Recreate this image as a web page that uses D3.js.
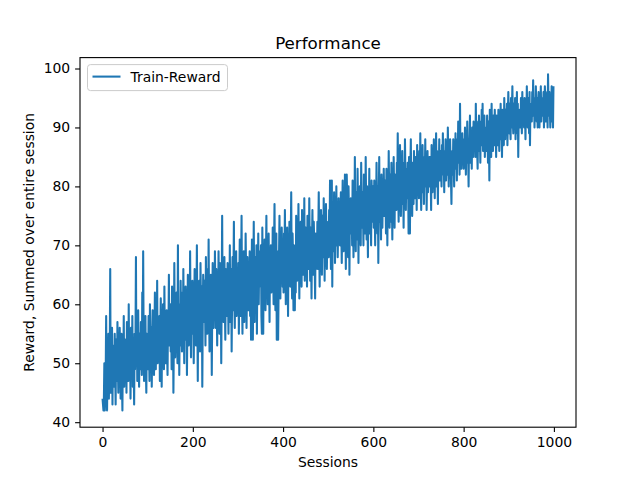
<!DOCTYPE html>
<html>
<head>
<meta charset="utf-8">
<script src="https://cdn.jsdelivr.net/npm/d3@7"></script>
<style>
  body { margin: 0; background: #fff; }
  svg { font-family: "DejaVu Sans", sans-serif; }
</style>
</head>
<body>
<svg id="chart" width="640" height="480"></svg>
<script>
// Train reward per session (sessions 0..999, 25 per row)
const trainReward = [
  44,43,42,44,50,42,46,48,58,45,42,50,47,55,44,49,52,66,45,51,47,56,43,53,48,
  52,46,55,49,43,54,51,47,57,50,45,53,48,56,52,44,50,55,47,42,53,49,58,46,51,
  54,48,52,45,57,50,53,47,60,49,55,51,44,56,52,48,58,46,53,50,43,55,49,54,68,
  50,56,47,53,59,51,46,55,52,49,57,53,48,62,50,69,54,47,56,51,58,49,45,55,52,
  55,49,58,52,47,60,54,50,56,46,53,59,51,57,48,55,62,52,49,56,53,64,50,57,54,
  51,58,47,55,61,53,46,57,52,60,55,49,63,54,57,50,56,59,52,48,58,55,65,53,57,
  60,52,57,49,63,55,58,45,54,67,56,51,59,53,62,57,50,70,55,60,48,58,53,64,56,
  59,52,62,55,66,58,50,61,56,63,54,60,48,57,65,59,53,62,56,69,58,51,61,55,64,
  56,62,50,59,66,57,63,53,60,70,58,47,61,56,64,59,52,67,60,55,63,46,58,65,61,
  57,64,61,53,68,59,62,55,66,58,71,60,52,63,57,65,61,48,59,67,62,56,64,59,69,
  62,56,66,60,53,64,58,69,61,55,67,60,63,50,62,75,59,65,57,63,68,60,54,66,61,
  64,58,67,62,55,65,60,70,57,63,66,52,61,68,59,64,74,60,56,66,62,69,58,63,65,
  60,67,55,64,71,62,58,66,75,61,55,65,63,69,57,64,60,72,66,56,63,68,61,59,67,
  62,69,58,66,54,64,71,60,54,63,74,62,57,68,65,61,70,55,66,63,72,60,67,64,69,
  63,70,58,55,73,64,55,68,62,71,65,59,67,75,63,69,60,66,72,64,57,68,65,70,62,
  68,63,73,66,60,70,77,65,59,67,72,54,69,64,54,62,68,75,66,61,70,64,73,67,63,
  69,62,72,66,76,68,60,71,65,73,67,58,70,64,74,69,63,71,79,66,61,72,68,59,70,
  65,59,68,62,75,70,64,72,67,77,69,61,71,66,74,68,63,76,70,65,72,68,78,64,71,
  73,67,70,63,75,69,72,66,78,70,64,73,68,61,71,76,69,65,74,70,67,61,72,66,71,
  68,74,66,72,79,70,63,73,69,76,71,65,75,70,68,78,72,64,74,69,77,71,66,73,70,
  74,68,76,71,81,73,66,75,81,63,77,72,69,79,74,67,76,72,80,70,75,68,73,78,71,
  76,70,74,79,72,67,75,81,73,69,77,72,82,74,66,76,82,78,73,68,80,75,65,77,72,
  78,72,76,70,81,74,68,77,73,85,75,69,79,74,71,83,76,67,78,73,80,75,70,84,77,
  73,79,76,70,82,75,78,72,85,77,71,80,74,68,78,75,83,72,79,76,70,81,77,74,80,
  78,73,81,76,70,79,75,84,77,72,80,67,78,85,74,79,76,71,82,77,73,80,75,83,78,
  75,81,78,72,83,77,70,80,76,86,79,73,82,77,74,84,78,71,81,76,85,79,73,82,78,
  81,76,84,79,89,80,74,83,78,87,81,75,82,79,86,77,80,73,84,79,88,82,76,83,80,
  78,84,81,72,85,80,72,83,88,79,82,75,84,80,77,86,81,78,85,79,83,76,87,82,80,
  83,78,86,81,89,80,76,84,82,87,79,83,77,85,81,88,80,84,76,82,86,79,83,81,85,
  80,85,82,76,87,83,79,86,81,88,84,78,85,82,89,80,86,83,77,85,82,88,81,84,86,
  84,80,87,83,89,82,85,79,86,83,88,81,84,87,82,90,85,80,86,83,88,84,81,77,85,
  86,82,88,85,80,87,84,89,83,86,81,88,85,91,84,87,82,94,85,88,83,86,89,84,87,
  83,88,85,90,86,82,89,84,91,87,85,80,88,86,92,84,89,86,83,90,87,85,91,88,86,
  89,85,94,87,91,86,83,90,88,92,86,89,84,91,87,93,88,94,86,90,87,92,85,89,88,
  90,86,92,88,84,91,89,81,93,87,90,85,94,88,91,86,92,89,87,93,88,90,85,92,89,
  91,87,93,89,86,92,90,94,88,91,85,93,89,92,87,95,90,88,93,91,89,94,87,92,96,
  92,89,94,91,88,95,90,93,97,91,89,94,92,90,95,88,93,91,96,89,94,85,92,90,93,
  93,90,95,92,89,96,91,94,92,90,95,93,88,94,91,97,92,90,95,93,89,96,87,94,92,
  94,91,96,93,98,92,95,90,94,92,97,93,91,95,90,94,96,92,90,95,93,97,91,94,93,
  95,92,96,90,94,97,93,91,95,92,96,90,99,94,92,96,93,90,95,92,97,91,94,90,97
];
const sessions = trainReward.map((_, i) => i);

const xTicks = [0, 200, 400, 600, 800, 1000];
const yTicks = [40, 50, 60, 70, 80, 90, 100];

const width = 640;
const height = 480;
const marginLeft = 80;
const marginRight = 64;
const marginTop = 57.6;
const marginBottom = 52.8;

// matplotlib-style 5% padding around the data range
const xPad = (d3.max(sessions) - d3.min(sessions)) * 0.05;
const xScale = d3.scaleLinear()
    .domain([d3.min(sessions) - xPad, d3.max(sessions) + xPad])
    .range([marginLeft, width - marginRight]);

const yPad = (d3.max(trainReward) - d3.min(trainReward)) * 0.05;
const yScale = d3.scaleLinear()
    .domain([d3.min(trainReward) - yPad, d3.max(trainReward) + yPad])
    .range([height - marginBottom, marginTop]);

const svg = d3.select('#chart');

const line = d3.line()
    .x((d, i) => xScale(sessions[i]))
    .y((d) => yScale(d));

svg.append('defs').append('clipPath').attr('id', 'clip')
  .append('rect')
    .attr('x', marginLeft).attr('y', marginTop)
    .attr('width', width - marginLeft - marginRight)
    .attr('height', height - marginTop - marginBottom);

// 1.5pt line at 100 dpi
svg.append('path')
    .datum(trainReward)
    .attr('clip-path', 'url(#clip)')
    .attr('fill', 'none')
    .attr('stroke', '#1f77b4')
    .attr('stroke-width', 2.08)
    .attr('stroke-linejoin', 'round')
    .attr('stroke-linecap', 'butt')
    .attr('d', line);

// axes
const xAxis = svg.append('g')
    .attr('transform', `translate(0,${height - marginBottom})`)
    .call(d3.axisBottom(xScale).tickValues(xTicks).tickFormat(d3.format('d'))
      .tickSize(4.9).tickPadding(4.9));

const yAxis = svg.append('g')
    .attr('transform', `translate(${marginLeft},0)`)
    .call(d3.axisLeft(yScale).tickValues(yTicks).tickFormat(d3.format('d'))
      .tickSize(4.9).tickPadding(4.9));

[xAxis, yAxis].forEach((g) => {
  g.select('.domain').remove();
  g.selectAll('.tick line').attr('stroke', '#000').attr('stroke-width', 1.1);
  g.selectAll('.tick text')
    .attr('fill', '#000')
    .style('font-size', '13.9px')
    .style('font-family', '"DejaVu Sans", sans-serif');
});

// frame
svg.append('rect')
    .attr('x', marginLeft).attr('y', marginTop)
    .attr('width', width - marginLeft - marginRight)
    .attr('height', height - marginTop - marginBottom)
    .attr('fill', 'none')
    .attr('stroke', '#000')
    .attr('stroke-width', 1.1);

// title and labels
svg.append('text')
    .attr('x', (marginLeft + width - marginRight) / 2)
    .attr('y', 49)
    .attr('text-anchor', 'middle')
    .style('font-size', '16.7px')
    .text('Performance');

svg.append('text')
    .attr('x', (marginLeft + width - marginRight) / 2)
    .attr('y', 467)
    .attr('text-anchor', 'middle')
    .style('font-size', '13.9px')
    .text('Sessions');

svg.append('text')
    .attr('transform', `translate(34,${(marginTop + height - marginBottom) / 2}) rotate(-90)`)
    .attr('text-anchor', 'middle')
    .style('font-size', '13.9px')
    .text('Reward, Summed over entire session');

// legend
const legend = svg.append('g').attr('transform', `translate(${marginLeft + 7.5},${marginTop + 7})`);
legend.append('rect')
    .attr('width', 140).attr('height', 26)
    .attr('rx', 3).attr('ry', 3)
    .attr('fill', '#fff').attr('fill-opacity', 0.8)
    .attr('stroke', '#cccccc').attr('stroke-width', 1);
legend.append('line')
    .attr('x1', 5).attr('x2', 33).attr('y1', 12).attr('y2', 12)
    .attr('stroke', '#1f77b4').attr('stroke-width', 2.08);
legend.append('text')
    .attr('x', 43).attr('y', 17)
    .style('font-size', '13.9px')
    .text('Train-Reward');
</script>
</body>
</html>
